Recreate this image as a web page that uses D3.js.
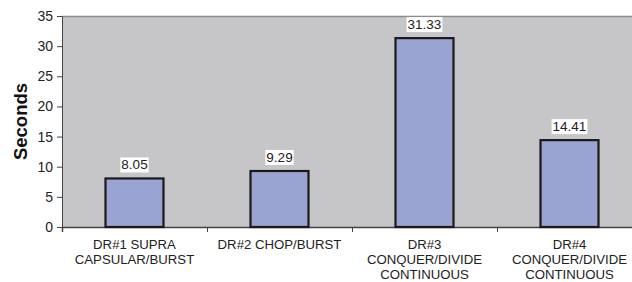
<!DOCTYPE html>
<html><head><meta charset="utf-8">
<script src="https://cdn.jsdelivr.net/npm/d3@7"></script>
<style>body{margin:0;background:#fff}svg{display:block}text{font-family:"Liberation Sans",Arial,sans-serif}</style>
</head><body>
<svg id="c" width="632" height="282"></svg>
<script>
const categories = [["DR#1 SUPRA","CAPSULAR/BURST"],["DR#2 CHOP/BURST"],["DR#3","CONQUER/DIVIDE","CONTINUOUS"],["DR#4","CONQUER/DIVIDE","CONTINUOUS"]];
const values = [8.05, 9.29, 31.33, 14.41];
const yTicks = [0,5,10,15,20,25,30,35];

(function(){
const svg = d3.select("#c");
const mLeft = 62, mRight = 642, mTop = 16, mBottom = 227;
const x = d3.scaleBand().domain(d3.range(categories.length)).range([mLeft, mRight]).paddingInner(0.6).paddingOuter(0.3);
const y = d3.scaleLinear().domain([0, 35]).range([mBottom, mTop]);

svg.append("rect").attr("x", mLeft).attr("y", mTop).attr("width", mRight-mLeft).attr("height", mBottom-mTop).attr("fill", "#c6c6c8");
svg.append("line").attr("x1", mLeft).attr("x2", mRight).attr("y1", mTop+0.5).attr("y2", mTop+0.5).attr("stroke", "#8c8c8c").attr("stroke-width", 1.5);

const ya = svg.append("g").attr("transform", `translate(${mLeft},0)`)
  .call(d3.axisLeft(y).tickValues(yTicks).tickSize(5).tickPadding(4));
ya.select(".domain").attr("stroke", "#444");
ya.selectAll(".tick line").attr("stroke", "#444");
ya.selectAll("text").attr("font-size", 14).attr("fill", "#222").style("font-family", '"Liberation Sans",Arial,sans-serif');

const xb = d3.scaleLinear().domain([0, 4]).range([mLeft, mRight]);
const xa = svg.append("g").attr("transform", `translate(0,${mBottom})`)
  .call(d3.axisBottom(xb).tickValues([0,1,2,3]).tickSize(5).tickFormat(""));
xa.select(".domain").attr("stroke", "#444").attr("stroke-width", 1.5);
xa.selectAll(".tick line").attr("stroke", "#444");

svg.selectAll("rect.bar").data(values).join("rect").attr("class","bar")
  .attr("x", (d,i)=>x(i)).attr("width", x.bandwidth())
  .attr("y", d=>y(d)).attr("height", d=>y(0)-y(d))
  .attr("fill", "#9aa4d3").attr("stroke", "#1a1a1a").attr("stroke-width", 2.2);

values.forEach((v,i)=>{
  const cx = x(i) + x.bandwidth()/2;
  const t = svg.append("text").attr("x", cx).attr("y", y(v)-9).attr("text-anchor","middle")
    .attr("font-size", 13.5).attr("fill", "#222").text(v.toFixed(2));
  const bb = t.node().getBBox();
  svg.insert("rect", () => t.node()).attr("x", bb.x-1).attr("y", bb.y).attr("width", bb.width+2).attr("height", bb.height).attr("fill", "#fff");
});

categories.forEach((lines,i)=>{
  const cx = xb(i+0.5);
  const t = svg.append("text").attr("text-anchor","middle").attr("font-size", 13.2).attr("fill", "#222");
  lines.forEach((l,j)=>t.append("tspan").attr("x", cx).attr("y", 248.5 + j*15).text(l));
});

svg.append("text").attr("transform", "translate(27,121.5) rotate(-90)").attr("text-anchor","middle")
  .attr("font-size", 18.5).attr("font-weight","bold").attr("fill","#111").text("Seconds");
})();
</script>
</body></html>
